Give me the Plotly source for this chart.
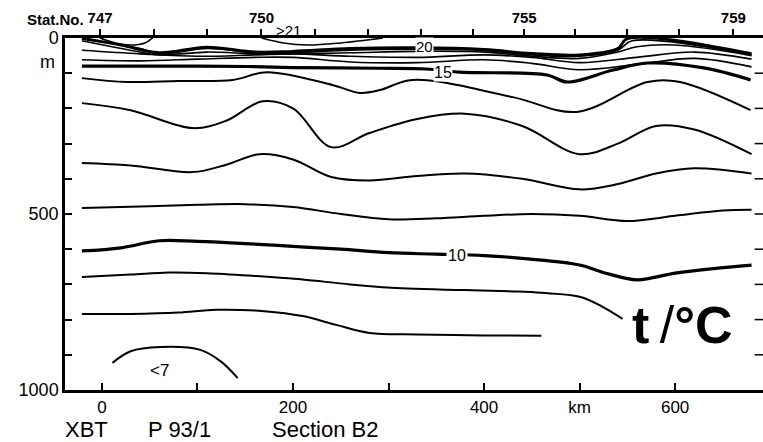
import plotly.graph_objects as go

# Station positions along the section (km) and their numbers
station_km = [-2, 54.5, 110, 167, 223, 278, 334, 388, 442, 495, 550, 604, 661]
station_no = [747, 748, 749, 750, 751, 752, 753, 754, 755, 756, 757, 758, 759]
station_lbl = {747: "747", 750: "750", 755: "755", 759: "759"}

# Isotherms: distance (km) and depth (m) of each traced line
iso_7_km = [11, 30, 61, 103, 125, 142]
iso_7_m = [923, 890, 878, 886, 920, 966]

iso_8_km = [-21, 30, 80, 120, 170, 210, 245, 280, 330, 400, 460]
iso_8_m = [784, 784, 780, 772, 776, 790, 815, 838, 842, 845, 846]

iso_9_km = [-21, 30, 70, 110, 160, 210, 260, 320, 380, 430, 460, 500, 525, 545]
iso_9_m = [679, 672, 666, 668, 676, 686, 700, 712, 716, 720, 724, 735, 765, 798]

iso_10_km = [-21, 20, 60, 100, 150, 200, 250, 300, 350, 400, 460, 500, 530, 560, 600, 640, 680]
iso_10_m = [605, 596, 576, 578, 584, 592, 600, 610, 614, 618, 631, 645, 670, 687, 668, 655, 645]

iso_11_km = [-21, 50, 100, 150, 200, 250, 300, 350, 400, 450, 500, 550, 600, 650, 680]
iso_11_m = [483, 478, 474, 472, 480, 500, 515, 512, 505, 500, 505, 520, 505, 490, 488]

iso_12_km = [-21, 30, 95, 130, 165, 200, 240, 280, 330, 380, 440, 500, 540, 580, 620, 680]
iso_12_m = [355, 362, 381, 360, 330, 345, 395, 405, 392, 385, 400, 430, 415, 385, 370, 385]

iso_13_km = [-21, 30, 95, 130, 168, 200, 240, 280, 330, 380, 440, 500, 540, 580, 620, 680]
iso_13_m = [185, 205, 256, 235, 180, 200, 310, 270, 230, 215, 250, 330, 300, 250, 260, 330]

iso_14_km = [-21, 26, 80, 137, 173, 242, 270, 291, 325, 430, 497, 571, 605, 679]
iso_14_m = [114, 125, 122, 119, 97, 134, 156, 148, 119, 168, 210, 125, 125, 205]

iso_15_km = [-21, 40, 100, 152, 200, 291, 340, 375, 466, 487, 535, 571, 630, 679]
iso_15_m = [80, 80, 80, 81, 84, 86, 88, 97, 105, 125, 91, 71, 85, 119]

iso_16_km = [-21, 40, 100, 160, 200, 260, 330, 400, 450, 500, 560, 620, 680]
iso_16_m = [62, 65, 60, 55, 55, 68, 70, 62, 72, 90, 75, 58, 82]

iso_17_km = [-21, 40, 100, 160, 200, 260, 330, 400, 450, 500, 560, 620, 680]
iso_17_m = [35, 45, 52, 48, 45, 52, 55, 48, 55, 70, 55, 40, 60]

iso_18_km = [-21, 40, 60, 110, 160, 200, 260, 330, 400, 450, 500, 540, 560, 600, 680]
iso_18_m = [8, 40, 48, 40, 45, 45, 42, 38, 40, 52, 58, 40, 25, 20, 50]

iso_19_km = [-21, 40, 60, 110, 160, 200, 260, 330, 400, 450, 500, 540, 555, 680]
iso_19_m = [3, 30, 45, 30, 42, 42, 35, 32, 36, 48, 52, 35, 8, 48]

iso_20_km = [-21, 20, 60, 110, 160, 200, 260, 330, 400, 450, 500, 540, 550, 680]
iso_20_m = [1, 20, 42, 26, 40, 38, 30, 28, 33, 44, 48, 30, 2, 45]

iso_21a_km = [-2, 15, 30, 45, 53]
iso_21a_m = [0, 15, 20, 14, 0]
iso_21b_km = [167, 190, 215, 250, 294]
iso_21b_m = [0, 14, 20, 14, 0]

lines = [
    (iso_7_km, iso_7_m, 2.0),
    (iso_8_km, iso_8_m, 2.0),
    (iso_9_km, iso_9_m, 2.0),
    (iso_10_km, iso_10_m, 3.2),
    (iso_11_km, iso_11_m, 2.0),
    (iso_12_km, iso_12_m, 2.0),
    (iso_13_km, iso_13_m, 2.0),
    (iso_14_km, iso_14_m, 2.0),
    (iso_15_km, iso_15_m, 3.2),
    (iso_16_km, iso_16_m, 1.6),
    (iso_17_km, iso_17_m, 1.6),
    (iso_18_km, iso_18_m, 1.6),
    (iso_19_km, iso_19_m, 1.6),
    (iso_20_km, iso_20_m, 3.0),
    (iso_21a_km, iso_21a_m, 1.6),
    (iso_21b_km, iso_21b_m, 1.6),
]

fig = go.Figure()
for xs, ys, w in lines:
    fig.add_trace(go.Scatter(
        x=xs, y=ys, mode="lines",
        line=dict(color="black", width=w, shape="spline", smoothing=1.0),
        hoverinfo="skip", showlegend=False,
    ))

# Station ticks along the top edge
fig.add_trace(go.Scatter(x=station_km, y=[None] * len(station_km), xaxis="x2",
                         mode="lines", showlegend=False, hoverinfo="skip"))

FONT = "Liberation Sans"
NARROW = "Liberation Sans Narrow, Liberation Sans"
km_ticks = [0, 100, 200, 300, 400, 500, 600]
km_text = ["0", "", "200", "", "400", "km", "600"]
depth_ticks = [0, 100, 200, 300, 400, 500, 600, 700, 800, 900, 1000]
depth_text = ["0", "", "", "", "", "500", "", "", "", "", "1000"]

fig.update_layout(
    width=763, height=442,
    margin=dict(l=65, r=0, t=38, b=52),
    paper_bgcolor="white", plot_bgcolor="white",
    font=dict(family=FONT, color="black"),
    xaxis=dict(range=[-38.7, 692], showgrid=False, zeroline=False,
               showline=True, linecolor="black", linewidth=2.5,
               ticks="inside", ticklen=7, tickwidth=1.5, tickcolor="black",
               tickvals=km_ticks, ticktext=km_text,
               tickfont=dict(size=17, family=FONT)),
    xaxis2=dict(range=[-38.7, 692], overlaying="x", side="top", anchor="y",
                showgrid=False, zeroline=False, showline=True,
                linecolor="black", linewidth=2.5,
                ticks="outside", ticklen=6, tickwidth=1.5, tickcolor="black",
                tickvals=station_km,
                ticktext=[station_lbl.get(n, "") for n in station_no],
                tickfont=dict(size=15, family=NARROW, weight="bold")),
    yaxis=dict(range=[1000, 0], showgrid=False, zeroline=False,
               showline=True, linecolor="black", linewidth=2.5,
               ticks="inside", ticklen=7, tickwidth=1.5, tickcolor="black",
               tickvals=depth_ticks, ticktext=depth_text,
               tickfont=dict(size=18, family=FONT)),
)

# Short depth ticks along the right edge
for d in depth_ticks[1:-1]:
    fig.add_shape(type="line", xref="paper", yref="y", x0=0.988, x1=1.0, y0=d, y1=d,
                  line=dict(color="black", width=1.5))


def note(text, **kw):
    font = kw.pop("font", dict(family=FONT, size=16))
    fig.add_annotation(text=text, showarrow=False, font=dict(color="black", **font), **kw)


# Station header, depth unit and isotherm labels
note("<b>Stat.No.</b>", x=-2, y=1.0, xref="x", yref="paper",
     xanchor="right", yanchor="bottom", yshift=8, xshift=-14,
     font=dict(family=NARROW, size=15))
note("m", x=0, y=68, xref="paper", yref="y", xanchor="right", xshift=-8,
     font=dict(family=FONT, size=18))
note("10", x=372, y=617, bgcolor="white", borderpad=1, font=dict(family=FONT, size=16))
note("15", x=357, y=97, bgcolor="white", borderpad=0, font=dict(family=FONT, size=16))
note("20", x=338, y=24, bgcolor="white", borderpad=0, font=dict(family=FONT, size=15))
note("&gt;21", x=180, y=1.0, yref="paper", xanchor="left", yanchor="middle", yshift=8,
     font=dict(family=FONT, size=15))
note("&lt;7", x=60, y=945, font=dict(family=FONT, size=17))
note("<b>t</b>&#8201;/<b>°C</b>", x=663, y=815, xanchor="right",
     font=dict(family=FONT, size=52))

# Caption below the section
caption = [("XBT", -2), ("P 93/1", 81), ("Section B2", 205)]
for txt, dx in caption:
    note(txt, x=0, xref="paper", y=-0.112, yref="paper", xanchor="left",
         yanchor="middle", xshift=dx, font=dict(family=FONT, size=22))

fig.write_html("out.html")
